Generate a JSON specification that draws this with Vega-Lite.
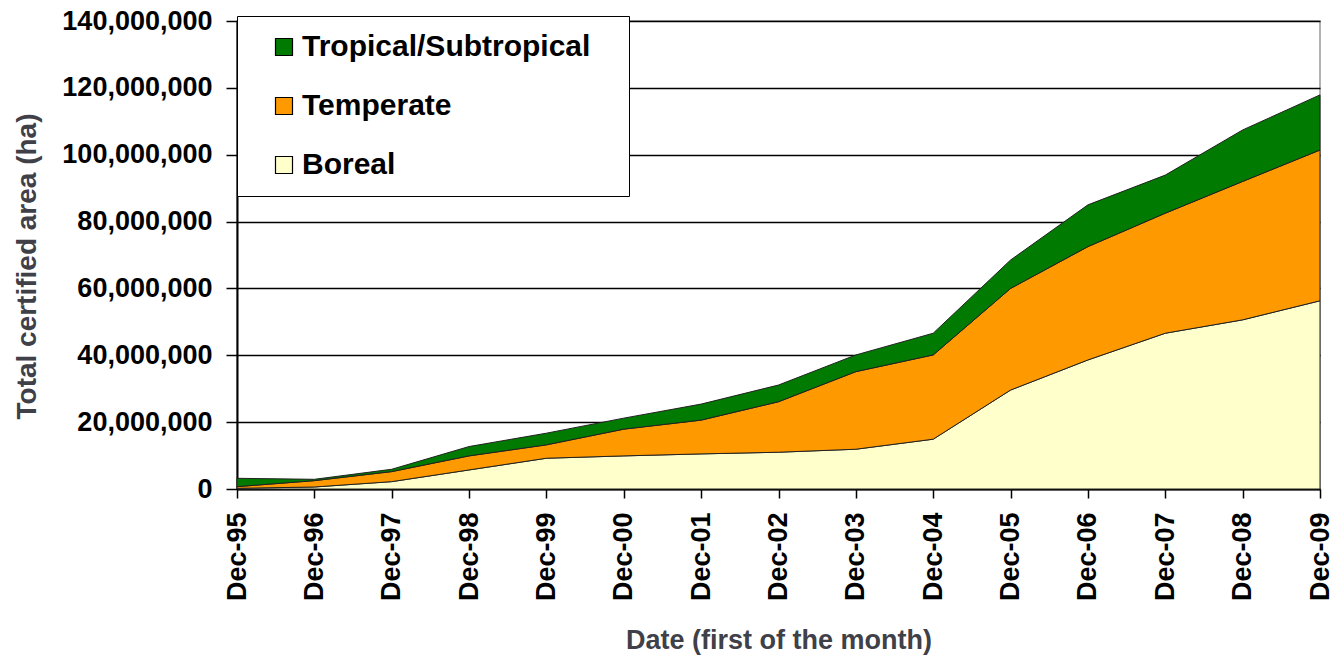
{
  "$schema": "https://vega.github.io/schema/vega-lite/v6.json",
  "width": 1083,
  "height": 468,
  "autosize": {"type": "none"},
  "padding": {"left": 237, "top": 21, "right": 14, "bottom": 171},
  "background": "white",
  "config": {
    "font": "Liberation Sans",
    "view": {"stroke": "#999999", "strokeWidth": 1.5}
  },
  "data": {
    "values": [
      {"date": "Dec-95", "zone": "Boreal", "value": 200000},
      {"date": "Dec-95", "zone": "Temperate", "value": 500000},
      {"date": "Dec-95", "zone": "Tropical/Subtropical", "value": 2500000},
      {"date": "Dec-96", "zone": "Boreal", "value": 600000},
      {"date": "Dec-96", "zone": "Temperate", "value": 1900000},
      {"date": "Dec-96", "zone": "Tropical/Subtropical", "value": 400000},
      {"date": "Dec-97", "zone": "Boreal", "value": 2200000},
      {"date": "Dec-97", "zone": "Temperate", "value": 3000000},
      {"date": "Dec-97", "zone": "Tropical/Subtropical", "value": 700000},
      {"date": "Dec-98", "zone": "Boreal", "value": 5700000},
      {"date": "Dec-98", "zone": "Temperate", "value": 4200000},
      {"date": "Dec-98", "zone": "Tropical/Subtropical", "value": 2800000},
      {"date": "Dec-99", "zone": "Boreal", "value": 9200000},
      {"date": "Dec-99", "zone": "Temperate", "value": 4000000},
      {"date": "Dec-99", "zone": "Tropical/Subtropical", "value": 3500000},
      {"date": "Dec-00", "zone": "Boreal", "value": 9900000},
      {"date": "Dec-00", "zone": "Temperate", "value": 8000000},
      {"date": "Dec-00", "zone": "Tropical/Subtropical", "value": 3300000},
      {"date": "Dec-01", "zone": "Boreal", "value": 10500000},
      {"date": "Dec-01", "zone": "Temperate", "value": 10100000},
      {"date": "Dec-01", "zone": "Tropical/Subtropical", "value": 4800000},
      {"date": "Dec-02", "zone": "Boreal", "value": 11000000},
      {"date": "Dec-02", "zone": "Temperate", "value": 15100000},
      {"date": "Dec-02", "zone": "Tropical/Subtropical", "value": 5000000},
      {"date": "Dec-03", "zone": "Boreal", "value": 11900000},
      {"date": "Dec-03", "zone": "Temperate", "value": 23200000},
      {"date": "Dec-03", "zone": "Tropical/Subtropical", "value": 5000000},
      {"date": "Dec-04", "zone": "Boreal", "value": 14900000},
      {"date": "Dec-04", "zone": "Temperate", "value": 25200000},
      {"date": "Dec-04", "zone": "Tropical/Subtropical", "value": 6500000},
      {"date": "Dec-05", "zone": "Boreal", "value": 29600000},
      {"date": "Dec-05", "zone": "Temperate", "value": 30400000},
      {"date": "Dec-05", "zone": "Tropical/Subtropical", "value": 8500000},
      {"date": "Dec-06", "zone": "Boreal", "value": 38600000},
      {"date": "Dec-06", "zone": "Temperate", "value": 33900000},
      {"date": "Dec-06", "zone": "Tropical/Subtropical", "value": 12500000},
      {"date": "Dec-07", "zone": "Boreal", "value": 46600000},
      {"date": "Dec-07", "zone": "Temperate", "value": 35900000},
      {"date": "Dec-07", "zone": "Tropical/Subtropical", "value": 11400000},
      {"date": "Dec-08", "zone": "Boreal", "value": 50600000},
      {"date": "Dec-08", "zone": "Temperate", "value": 41400000},
      {"date": "Dec-08", "zone": "Tropical/Subtropical", "value": 15400000},
      {"date": "Dec-09", "zone": "Boreal", "value": 56300000},
      {"date": "Dec-09", "zone": "Temperate", "value": 45100000},
      {"date": "Dec-09", "zone": "Tropical/Subtropical", "value": 16500000}
    ]
  },
  "mark": {"type": "area", "stroke": "#222222", "strokeWidth": 1, "strokeJoin": "round"},
  "encoding": {
    "x": {
      "field": "date",
      "type": "ordinal",
      "sort": null,
      "scale": {"type": "point", "padding": 0},
      "axis": {
        "title": "Date (first of the month)",
        "titleFont": "Liberation Sans",
        "titleFontSize": 27,
        "titleFontWeight": "bold",
        "titleColor": "#404048",
        "titlePadding": 27,
        "labelAngle": -90,
        "labelFont": "Liberation Sans",
        "labelFontSize": 27,
        "labelFontWeight": "bold",
        "labelColor": "#000000",
        "labelPadding": 14,
        "labelFlush": false,
        "labelOverlap": false,
        "tickColor": "#000000",
        "tickSize": 9,
        "tickWidth": 1.5,
        "domainColor": "#000000",
        "domainWidth": 2,
        "grid": false
      }
    },
    "y": {
      "field": "value",
      "type": "quantitative",
      "stack": "zero",
      "scale": {"domain": [0, 140000000], "nice": false},
      "axis": {
        "title": "Total certified area (ha)",
        "titleFont": "Liberation Sans",
        "titleFontSize": 28,
        "titleFontWeight": "bold",
        "titleColor": "#404048",
        "titlePadding": 20,
        "titleY": 245,
        "values": [0, 20000000, 40000000, 60000000, 80000000, 100000000, 120000000, 140000000],
        "format": ",d",
        "labelFont": "Liberation Sans",
        "labelFontSize": 27,
        "labelFontWeight": "bold",
        "labelColor": "#000000",
        "labelPadding": 14,
        "tickColor": "#000000",
        "tickSize": 11,
        "tickWidth": 1.5,
        "domainColor": "#000000",
        "domainWidth": 2,
        "grid": true,
        "gridColor": "#000000",
        "gridWidth": 1.5,
        "gridOpacity": 1
      }
    },
    "color": {
      "field": "zone",
      "type": "nominal",
      "scale": {
        "domain": ["Tropical/Subtropical", "Temperate", "Boreal"],
        "range": ["#007a00", "#ff9900", "#ffffcc"]
      },
      "legend": {
        "title": null,
        "orient": "none",
        "legendX": 0,
        "legendY": -5,
        "direction": "vertical",
        "fillColor": "#ffffff",
        "strokeColor": "#000000",
        "padding": 16,
        "rowPadding": 29,
        "symbolType": "square",
        "symbolSize": 289,
        "symbolStrokeColor": "#000000",
        "symbolStrokeWidth": 1.2,
        "symbolOffset": 16,
        "labelFont": "Liberation Sans",
        "labelFontSize": 30,
        "labelFontWeight": "bold",
        "labelColor": "#000000",
        "labelOffset": 3,
        "labelLimit": 500,
        "labelExpr": "datum.label + '\u2800'"
      }
    },
    "order": {"field": "zone", "sort": "ascending"}
  }
}
